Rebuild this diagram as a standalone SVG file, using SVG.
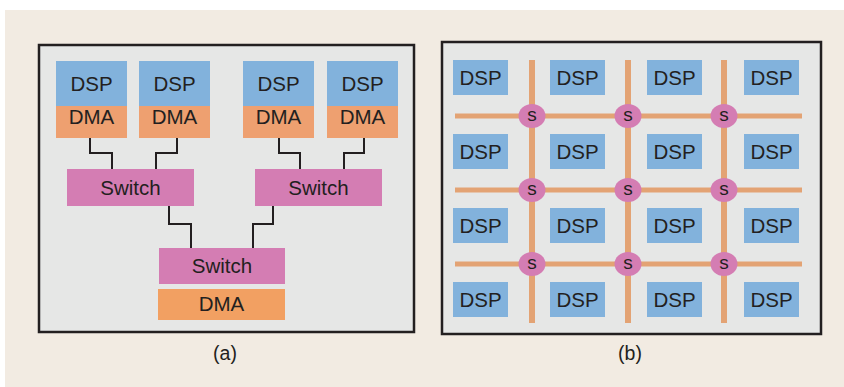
<svg xmlns="http://www.w3.org/2000/svg" width="844" height="387" viewBox="0 0 844 387">
<defs>
<style>
.bg{fill:#f2ebe2}
.panel{fill:#e6e7e6;stroke:#231f20;stroke-width:2.5}
.dsp{fill:#82b2dc}
.dma{fill:#eea070}
.dma2{fill:#f2a062}
.sw{fill:#d47db3}
.wire{fill:none;stroke:#231f20;stroke-width:2}
.grid{stroke:#e3a374;fill:none}
.t{font-family:"Liberation Sans",Arial,sans-serif;font-size:20.5px;fill:#231f20;text-anchor:middle}
.s{font-family:"Liberation Sans",Arial,sans-serif;font-size:19px;fill:#231f20;text-anchor:middle}
.cap{font-family:"Liberation Sans",Arial,sans-serif;font-size:19.5px;fill:#231f20;text-anchor:middle}
</style>
</defs>
<rect class="bg" x="5" y="10" width="839" height="377"/>
<rect class="panel" x="39" y="45" width="375" height="287"/>
<rect class="panel" x="442" y="42" width="379" height="292"/>

<g id="connectors-a">
<polyline class="wire" points="90,138 90,153 112,153 112,169"/>
<polyline class="wire" points="177,138 177,153 156,153 156,169"/>
<polyline class="wire" points="279,138 279,153 300,153 300,169"/>
<polyline class="wire" points="364,138 364,153 344,153 344,169"/>
<polyline class="wire" points="169,206 169,224 191,224 191,248"/>
<polyline class="wire" points="273,206 273,224 253,224 253,248"/>
</g>

<g id="dsp-a1"><rect class="dsp" x="56" y="61" width="71" height="45"/><text class="t" x="91.5" y="91">DSP</text></g>
<g id="dma-a1"><rect class="dma" x="56" y="106" width="71" height="32"/><text class="t" x="91.5" y="124">DMA</text></g>
<g id="dsp-a2"><rect class="dsp" x="139" y="61" width="71" height="45"/><text class="t" x="174.5" y="91">DSP</text></g>
<g id="dma-a2"><rect class="dma" x="139" y="106" width="71" height="32"/><text class="t" x="174.5" y="124">DMA</text></g>
<g id="dsp-a3"><rect class="dsp" x="243" y="61" width="71" height="45"/><text class="t" x="278.5" y="91">DSP</text></g>
<g id="dma-a3"><rect class="dma" x="243" y="106" width="71" height="32"/><text class="t" x="278.5" y="124">DMA</text></g>
<g id="dsp-a4"><rect class="dsp" x="327" y="61" width="71" height="45"/><text class="t" x="362.5" y="91">DSP</text></g>
<g id="dma-a4"><rect class="dma" x="327" y="106" width="71" height="32"/><text class="t" x="362.5" y="124">DMA</text></g>
<g id="switch-a1"><rect class="sw" x="67" y="169" width="127" height="37"/><text class="t" x="130.5" y="195">Switch</text></g>
<g id="switch-a2"><rect class="sw" x="255" y="169" width="127" height="37"/><text class="t" x="318.5" y="195">Switch</text></g>
<g id="switch-a3"><rect class="sw" x="159" y="248" width="126" height="36"/><text class="t" x="222" y="273">Switch</text></g>
<g id="dma-a5"><rect class="dma2" x="158" y="289" width="127" height="31"/><text class="t" x="221.5" y="311">DMA</text></g>

<g id="connectors-b">
<line class="grid" stroke-width="5" x1="455" y1="116" x2="802" y2="116"/>
<line class="grid" stroke-width="5" x1="455" y1="190" x2="802" y2="190"/>
<line class="grid" stroke-width="5" x1="455" y1="264" x2="802" y2="264"/>
<line class="grid" stroke-width="6" x1="532" y1="60" x2="532" y2="323"/>
<line class="grid" stroke-width="6" x1="628" y1="60" x2="628" y2="323"/>
<line class="grid" stroke-width="6" x1="724" y1="60" x2="724" y2="323"/>
</g>

<g id="dsp-b-r1c1"><rect class="dsp" x="453" y="60" width="55" height="35"/><text class="t" x="480.5" y="84.5">DSP</text></g>
<g id="dsp-b-r1c2"><rect class="dsp" x="550" y="60" width="55" height="35"/><text class="t" x="577.5" y="84.5">DSP</text></g>
<g id="dsp-b-r1c3"><rect class="dsp" x="647" y="60" width="55" height="35"/><text class="t" x="674.5" y="84.5">DSP</text></g>
<g id="dsp-b-r1c4"><rect class="dsp" x="744" y="60" width="55" height="35"/><text class="t" x="771.5" y="84.5">DSP</text></g>
<g id="dsp-b-r2c1"><rect class="dsp" x="453" y="134" width="55" height="35"/><text class="t" x="480.5" y="158.5">DSP</text></g>
<g id="dsp-b-r2c2"><rect class="dsp" x="550" y="134" width="55" height="35"/><text class="t" x="577.5" y="158.5">DSP</text></g>
<g id="dsp-b-r2c3"><rect class="dsp" x="647" y="134" width="55" height="35"/><text class="t" x="674.5" y="158.5">DSP</text></g>
<g id="dsp-b-r2c4"><rect class="dsp" x="744" y="134" width="55" height="35"/><text class="t" x="771.5" y="158.5">DSP</text></g>
<g id="dsp-b-r3c1"><rect class="dsp" x="453" y="208" width="55" height="35"/><text class="t" x="480.5" y="232.5">DSP</text></g>
<g id="dsp-b-r3c2"><rect class="dsp" x="550" y="208" width="55" height="35"/><text class="t" x="577.5" y="232.5">DSP</text></g>
<g id="dsp-b-r3c3"><rect class="dsp" x="647" y="208" width="55" height="35"/><text class="t" x="674.5" y="232.5">DSP</text></g>
<g id="dsp-b-r3c4"><rect class="dsp" x="744" y="208" width="55" height="35"/><text class="t" x="771.5" y="232.5">DSP</text></g>
<g id="dsp-b-r4c1"><rect class="dsp" x="453" y="282" width="55" height="35"/><text class="t" x="480.5" y="306.5">DSP</text></g>
<g id="dsp-b-r4c2"><rect class="dsp" x="550" y="282" width="55" height="35"/><text class="t" x="577.5" y="306.5">DSP</text></g>
<g id="dsp-b-r4c3"><rect class="dsp" x="647" y="282" width="55" height="35"/><text class="t" x="674.5" y="306.5">DSP</text></g>
<g id="dsp-b-r4c4"><rect class="dsp" x="744" y="282" width="55" height="35"/><text class="t" x="771.5" y="306.5">DSP</text></g>

<g id="s-r1c1"><ellipse class="sw" cx="532" cy="116" rx="13.5" ry="12"/><text class="s" x="532" y="121">s</text></g>
<g id="s-r1c2"><ellipse class="sw" cx="628" cy="116" rx="13.5" ry="12"/><text class="s" x="628" y="121">s</text></g>
<g id="s-r1c3"><ellipse class="sw" cx="724" cy="116" rx="13.5" ry="12"/><text class="s" x="724" y="121">s</text></g>
<g id="s-r2c1"><ellipse class="sw" cx="532" cy="190" rx="13.5" ry="12"/><text class="s" x="532" y="195">s</text></g>
<g id="s-r2c2"><ellipse class="sw" cx="628" cy="190" rx="13.5" ry="12"/><text class="s" x="628" y="195">s</text></g>
<g id="s-r2c3"><ellipse class="sw" cx="724" cy="190" rx="13.5" ry="12"/><text class="s" x="724" y="195">s</text></g>
<g id="s-r3c1"><ellipse class="sw" cx="532" cy="264" rx="13.5" ry="12"/><text class="s" x="532" y="269">s</text></g>
<g id="s-r3c2"><ellipse class="sw" cx="628" cy="264" rx="13.5" ry="12"/><text class="s" x="628" y="269">s</text></g>
<g id="s-r3c3"><ellipse class="sw" cx="724" cy="264" rx="13.5" ry="12"/><text class="s" x="724" y="269">s</text></g>

<text class="cap" x="225" y="360">(a)</text>
<text class="cap" x="630" y="360">(b)</text>
</svg>
